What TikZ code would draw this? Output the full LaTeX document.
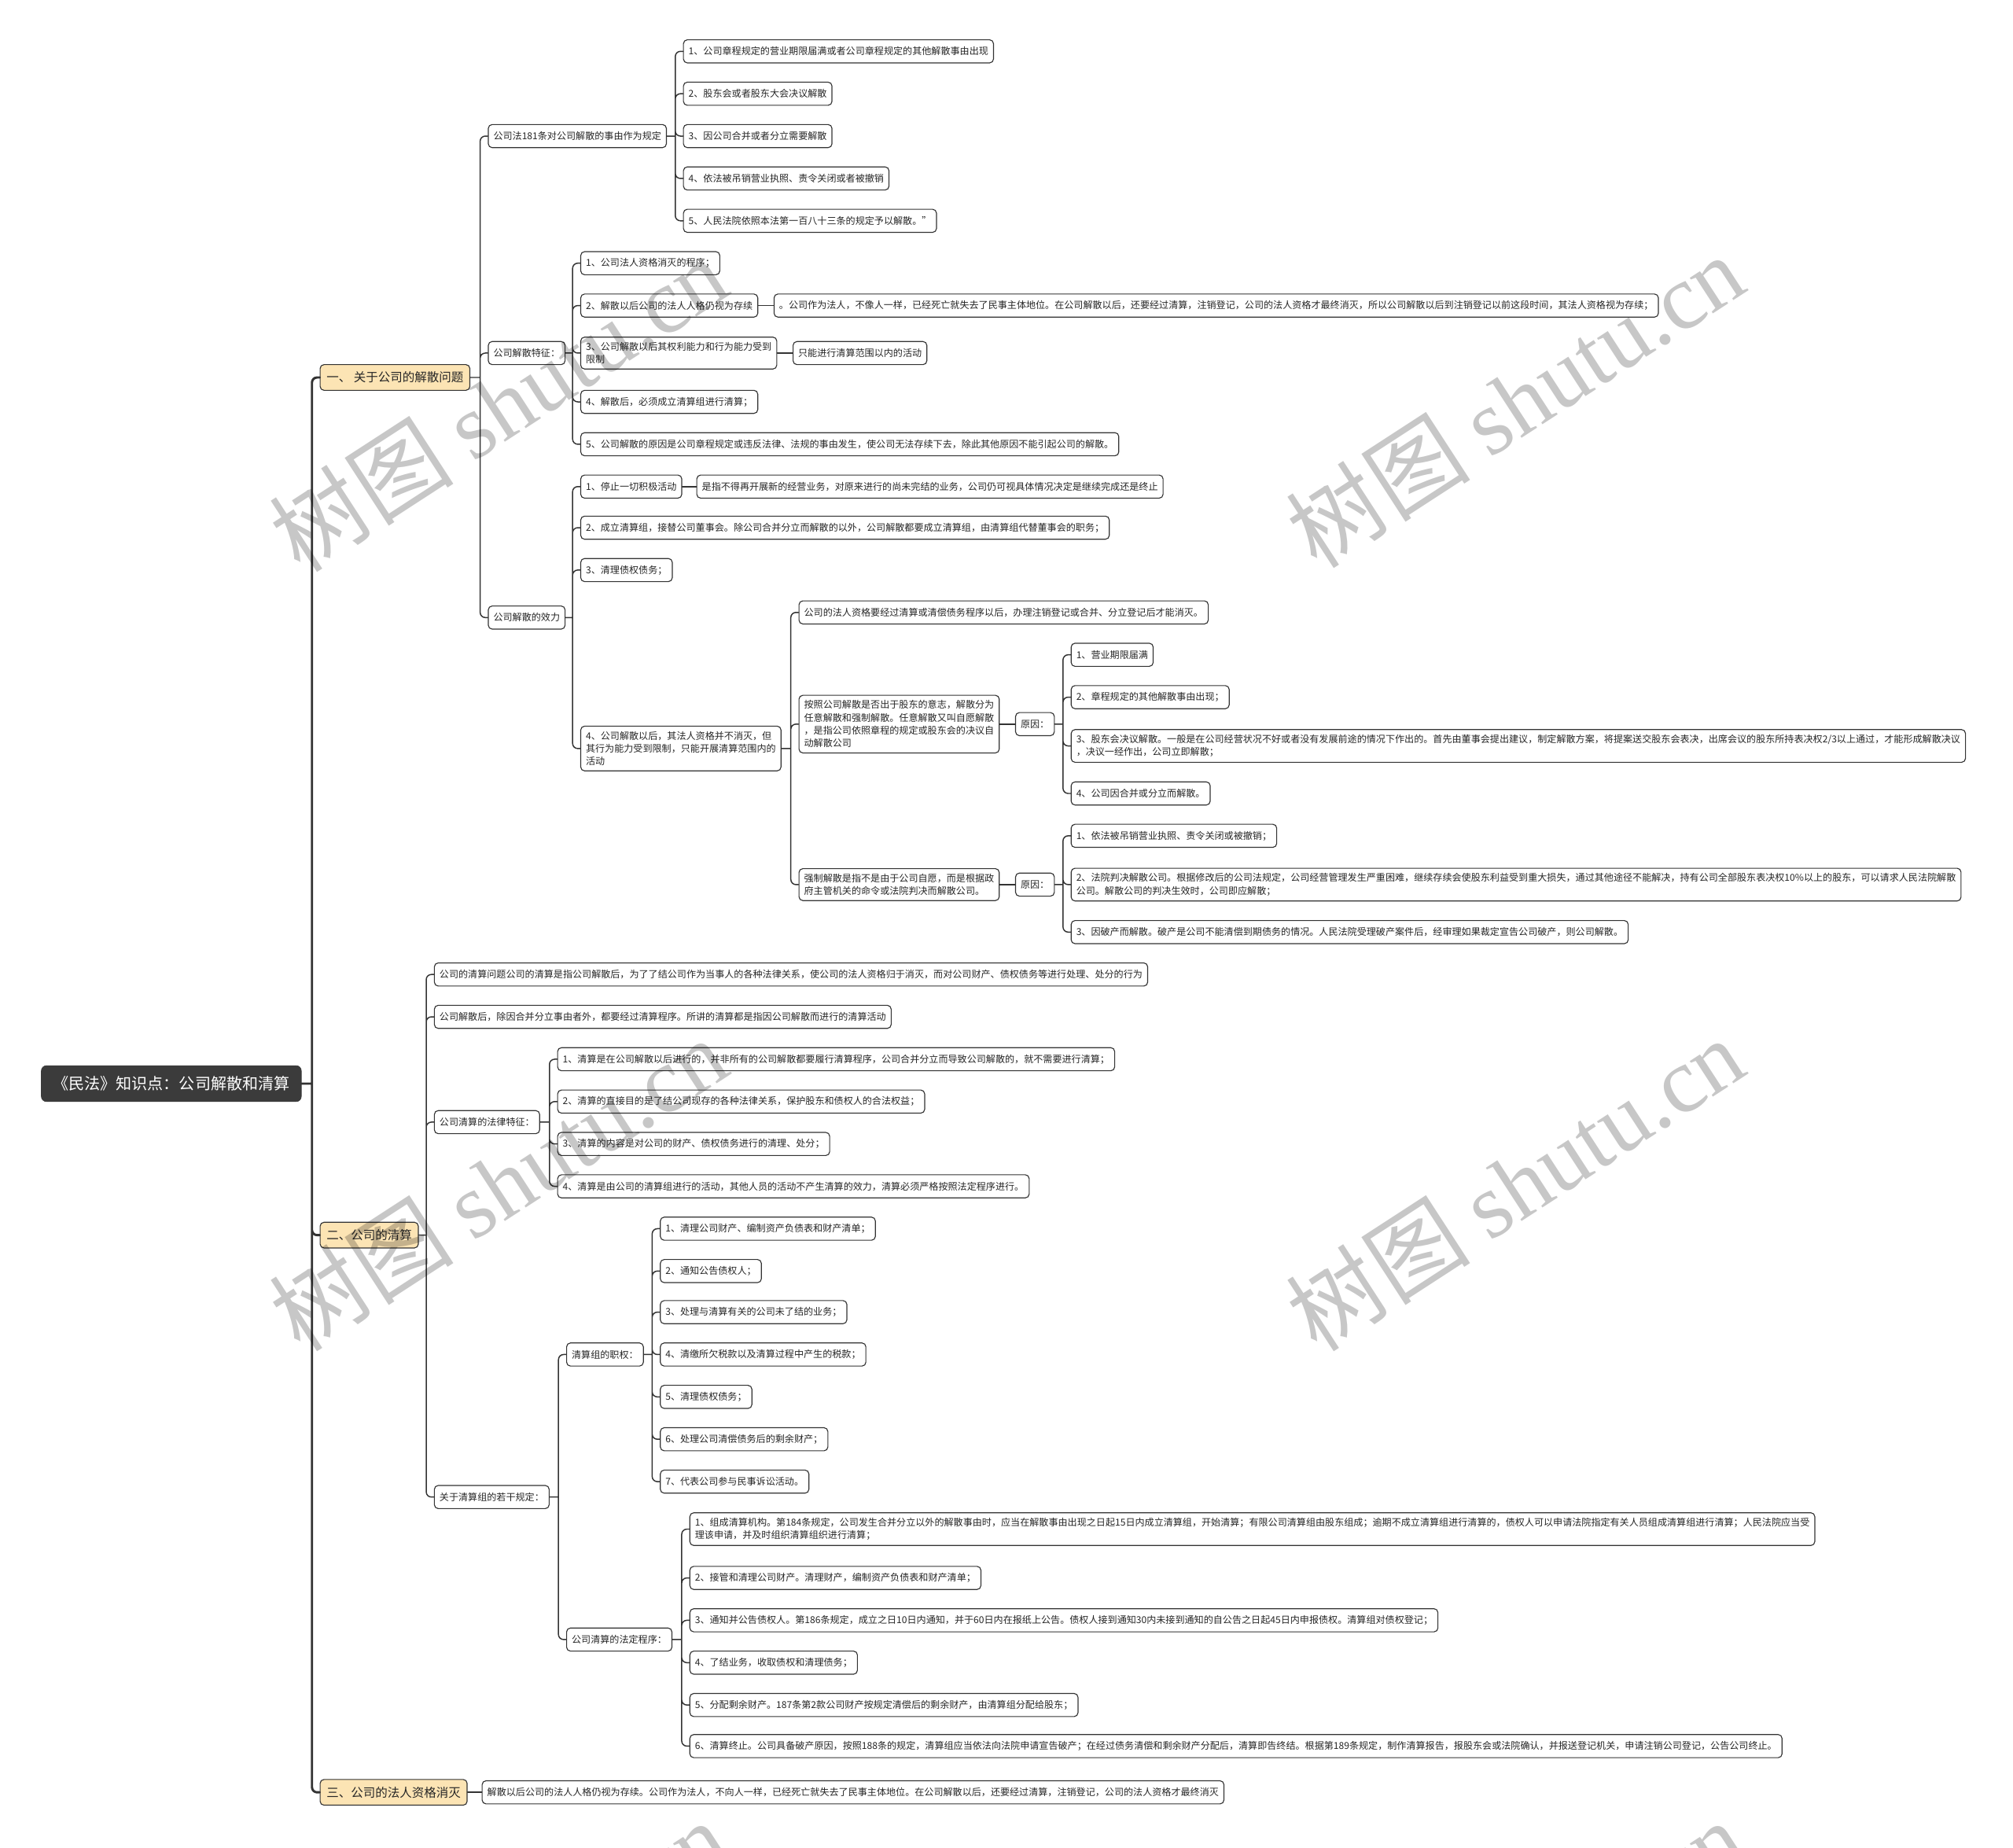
\documentclass[tikz,border=0pt]{standalone}
\usepackage{fontspec}
\setmainfont{Noto Sans CJK SC}
\newfontfamily\wmfont{Liberation Serif}
\usetikzlibrary{positioning, calc}

\definecolor{linegray}{HTML}{333333}
\definecolor{topicfill}{HTML}{FCE4B4}
\definecolor{rootfill}{HTML}{3B3B3B}

\begin{document}
\begin{tikzpicture}[
    x=1pt, y=-1pt,
    % Styles
    leaf/.style={draw=linegray, fill=white, rounded corners=3pt, line width=0.7pt, anchor=west, align=left, inner xsep=4pt, inner ysep=4pt, minimum height=18pt, font=\fontsize{7.4}{10}\selectfont, text=black!85},
    topic/.style={leaf, fill=topicfill, font=\fontsize{9.5}{11}\selectfont, minimum height=20pt, inner xsep=5pt},
    rootbox/.style={draw=rootfill, fill=rootfill, rounded corners=4pt, anchor=west, inner xsep=9pt, minimum height=28pt, font=\fontsize{12.3}{14}\selectfont, text=white},
    conn/.style={draw=linegray, line width=0.9pt, line cap=round, rounded corners=4pt,
        to path={-- ([xshift=-6pt]\tikztotarget.west |- \tikztostart) ([xshift=-6pt]\tikztotarget.west |- \tikztostart) |- (\tikztotarget.west)}},
    wmark/.style={rotate=33, text=black, opacity=0.22, font=\fontsize{72}{72}\selectfont}
    ]
    \useasboundingbox (0,0) rectangle (1568,1439);

    % Root and main topics
    \node (root) [rootbox] at (32,844) {《民法》知识点：公司解散和清算};
    \node (dis) [topic] at (249,294) {一、 关于公司的解散问题};
    \node (liq) [topic] at (249,962) {二、公司的清算};
    \node (ext) [topic] at (249,1396) {三、公司的法人资格消灭};

    % 1. Dissolution
    \node (cause) [leaf] at (380,106) {公司法181条对公司解散的事由作为规定};
    \node (feat) [leaf] at (380,275) {公司解散特征：};
    \node (eff) [leaf] at (380,481) {公司解散的效力};

    \node (cause1) [leaf] at (532,40) {1、公司章程规定的营业期限届满或者公司章程规定的其他解散事由出现};
    \node (cause2) [leaf] at (532,73) {2、股东会或者股东大会决议解散};
    \node (cause3) [leaf] at (532,106) {3、因公司合并或者分立需要解散};
    \node (cause4) [leaf] at (532,139) {4、依法被吊销营业执照、责令关闭或者被撤销};
    \node (cause5) [leaf] at (532,172) {5、人民法院依照本法第一百八十三条的规定予以解散。”};

    \node (feat1) [leaf] at (452,205) {1、公司法人资格消灭的程序；};
    \node (feat2) [leaf] at (452,238) {2、解散以后公司的法人人格仍视为存续};
    \node (feat2n) [leaf, right=12pt of feat2] {。公司作为法人，不像人一样，已经死亡就失去了民事主体地位。在公司解散以后，还要经过清算，注销登记，公司的法人资格才最终消灭，所以公司解散以后到注销登记以前这段时间，其法人资格视为存续；};
    \node (feat3) [leaf] at (452,275) {3、公司解散以后其权利能力和行为能力受到\\限制};
    \node (feat3n) [leaf, right=12pt of feat3] {只能进行清算范围以内的活动};
    \node (feat4) [leaf] at (452,313) {4、解散后，必须成立清算组进行清算；};
    \node (feat5) [leaf] at (452,346) {5、公司解散的原因是公司章程规定或违反法律、法规的事由发生，使公司无法存续下去，除此其他原因不能引起公司的解散。};

    \node (eff1) [leaf] at (452,379) {1、停止一切积极活动};
    \node (eff1n) [leaf, right=11pt of eff1] {是指不得再开展新的经营业务，对原来进行的尚未完结的业务，公司仍可视具体情况决定是继续完成还是终止};
    \node (eff2) [leaf] at (452,411) {2、成立清算组，接替公司董事会。除公司合并分立而解散的以外，公司解散都要成立清算组，由清算组代替董事会的职务；};
    \node (eff3) [leaf] at (452,444) {3、清理债权债务；};
    \node (eff4) [leaf] at (452,583) {4、公司解散以后，其法人资格并不消灭，但\\其行为能力受到限制，只能开展清算范围内的\\活动};

    \node (eff4a) [leaf] at (622,477) {公司的法人资格要经过清算或清偿债务程序以后，办理注销登记或合并、分立登记后才能消灭。};
    \node (vol) [leaf] at (622,564) {按照公司解散是否出于股东的意志，解散分为\\任意解散和强制解散。任意解散又叫自愿解散\\，是指公司依照章程的规定或股东会的决议自\\动解散公司};
    \node (volr) [leaf, right=12pt of vol] {原因：};
    \node (vol1) [leaf] at (834,510) {1、营业期限届满};
    \node (vol2) [leaf] at (834,543) {2、章程规定的其他解散事由出现；};
    \node (vol3) [leaf] at (834,581) {3、股东会决议解散。一般是在公司经营状况不好或者没有发展前途的情况下作出的。首先由董事会提出建议，制定解散方案，将提案送交股东会表决，出席会议的股东所持表决权2/3以上通过，才能形成解散决议\\，决议一经作出，公司立即解散；};
    \node (vol4) [leaf] at (834,618) {4、公司因合并或分立而解散。};

    \node (inv) [leaf] at (622,689) {强制解散是指不是由于公司自愿，而是根据政\\府主管机关的命令或法院判决而解散公司。};
    \node (invr) [leaf, right=12pt of inv] {原因：};
    \node (inv1) [leaf] at (834,651) {1、依法被吊销营业执照、责令关闭或被撤销；};
    \node (inv2) [leaf] at (834,689) {2、法院判决解散公司。根据修改后的公司法规定，公司经营管理发生严重困难，继续存续会使股东利益受到重大损失，通过其他途径不能解决，持有公司全部股东表决权10\%以上的股东，可以请求人民法院解散\\公司。解散公司的判决生效时，公司即应解散；};
    \node (inv3) [leaf] at (834,726) {3、因破产而解散。破产是公司不能清偿到期债务的情况。人民法院受理破产案件后，经审理如果裁定宣告公司破产，则公司解散。};

    % 2. Liquidation
    \node (liqdef) [leaf] at (338,759) {公司的清算问题公司的清算是指公司解散后，为了了结公司作为当事人的各种法律关系，使公司的法人资格归于消灭，而对公司财产、债权债务等进行处理、处分的行为};
    \node (liqall) [leaf] at (338,792) {公司解散后，除因合并分立事由者外，都要经过清算程序。所讲的清算都是指因公司解散而进行的清算活动};
    \node (liqfeat) [leaf] at (338,874) {公司清算的法律特征：};
    \node (grp) [leaf] at (338,1166) {关于清算组的若干规定：};

    \node (liqfeat1) [leaf] at (434,825) {1、清算是在公司解散以后进行的，并非所有的公司解散都要履行清算程序，公司合并分立而导致公司解散的，就不需要进行清算；};
    \node (liqfeat2) [leaf] at (434,858) {2、清算的直接目的是了结公司现存的各种法律关系，保护股东和债权人的合法权益；};
    \node (liqfeat3) [leaf] at (434,891) {3、清算的内容是对公司的财产、债权债务进行的清理、处分；};
    \node (liqfeat4) [leaf] at (434,924) {4、清算是由公司的清算组进行的活动，其他人员的活动不产生清算的效力，清算必须严格按照法定程序进行。};

    \node (power) [leaf] at (441,1055) {清算组的职权：};
    \node (proc) [leaf] at (441,1277) {公司清算的法定程序：};

    \node (power1) [leaf] at (514,957) {1、清理公司财产、编制资产负债表和财产清单；};
    \node (power2) [leaf] at (514,990) {2、通知公告债权人；};
    \node (power3) [leaf] at (514,1022) {3、处理与清算有关的公司未了结的业务；};
    \node (power4) [leaf] at (514,1055) {4、清缴所欠税款以及清算过程中产生的税款；};
    \node (power5) [leaf] at (514,1088) {5、清理债权债务；};
    \node (power6) [leaf] at (514,1121) {6、处理公司清偿债务后的剩余财产；};
    \node (power7) [leaf] at (514,1154) {7、代表公司参与民事诉讼活动。};

    \node (proc1) [leaf] at (537,1191) {1、组成清算机构。第184条规定，公司发生合并分立以外的解散事由时，应当在解散事由出现之日起15日内成立清算组，开始清算；有限公司清算组由股东组成；逾期不成立清算组进行清算的，债权人可以申请法院指定有关人员组成清算组进行清算；人民法院应当受\\理该申请，并及时组织清算组织进行清算；};
    \node (proc2) [leaf] at (537,1229) {2、接管和清理公司财产。清理财产，编制资产负债表和财产清单；};
    \node (proc3) [leaf] at (537,1262) {3、通知并公告债权人。第186条规定，成立之日10日内通知，并于60日内在报纸上公告。债权人接到通知30内未接到通知的自公告之日起45日内申报债权。清算组对债权登记；};
    \node (proc4) [leaf] at (537,1295) {4、了结业务，收取债权和清理债务；};
    \node (proc5) [leaf] at (537,1328) {5、分配剩余财产。187条第2款公司财产按规定清偿后的剩余财产，由清算组分配给股东；};
    \node (proc6) [leaf] at (537,1360) {6、清算终止。公司具备破产原因，按照188条的规定，清算组应当依法向法院申请宣告破产；在经过债务清偿和剩余财产分配后，清算即告终结。根据第189条规定，制作清算报告，报股东会或法院确认，并报送登记机关，申请注销公司登记，公告公司终止。};

    % 3. Extinction
    \node (extn) [leaf, right=11pt of ext] {解散以后公司的法人人格仍视为存续。公司作为法人，不向人一样，已经死亡就失去了民事主体地位。在公司解散以后，还要经过清算，注销登记，公司的法人资格才最终消灭};

    % Connections
    \draw[conn, line width=1.8pt] (root.east) to (dis) (root.east) to (liq) (root.east) to (ext);
    \draw[conn] (dis.east) to (cause) (dis.east) to (feat) (dis.east) to (eff);
    \draw[conn] (cause.east) to (cause1) (cause.east) to (cause2) (cause.east) to (cause3) (cause.east) to (cause4) (cause.east) to (cause5);
    \draw[conn] (feat.east) to (feat1) (feat.east) to (feat2) (feat.east) to (feat3) (feat.east) to (feat4) (feat.east) to (feat5);
    \draw[conn] (feat2.east) -- (feat2n.west);
    \draw[conn] (feat3.east) -- (feat3n.west);
    \draw[conn] (eff.east) to (eff1) (eff.east) to (eff2) (eff.east) to (eff3) (eff.east) to (eff4);
    \draw[conn] (eff1.east) -- (eff1n.west);
    \draw[conn] (eff4.east) to (eff4a) (eff4.east) to (vol) (eff4.east) to (inv);
    \draw[conn] (vol.east) -- (volr.west);
    \draw[conn] (volr.east) to (vol1) (volr.east) to (vol2) (volr.east) to (vol3) (volr.east) to (vol4);
    \draw[conn] (inv.east) -- (invr.west);
    \draw[conn] (invr.east) to (inv1) (invr.east) to (inv2) (invr.east) to (inv3);
    \draw[conn] (liq.east) to (liqdef) (liq.east) to (liqall) (liq.east) to (liqfeat) (liq.east) to (grp);
    \draw[conn] (liqfeat.east) to (liqfeat1) (liqfeat.east) to (liqfeat2) (liqfeat.east) to (liqfeat3) (liqfeat.east) to (liqfeat4);
    \draw[conn] (grp.east) to (power) (grp.east) to (proc);
    \draw[conn] (power.east) to (power1) (power.east) to (power2) (power.east) to (power3) (power.east) to (power4) (power.east) to (power5) (power.east) to (power6) (power.east) to (power7);
    \draw[conn] (proc.east) to (proc1) (proc.east) to (proc2) (proc.east) to (proc3) (proc.east) to (proc4) (proc.east) to (proc5) (proc.east) to (proc6);
    \draw[conn] (ext.east) -- (extn.west);

    % Watermarks
    \begin{scope}
        \clip (0,0) rectangle (1568,1439);
        \node (wm1) [wmark] at (388,315) {树图 {\wmfont shutu.cn}};
        \node (wm2) [wmark] at (1180,312) {树图 {\wmfont shutu.cn}};
        \node (wm3) [wmark] at (388,922) {树图 {\wmfont shutu.cn}};
        \node (wm4) [wmark] at (1180,922) {树图 {\wmfont shutu.cn}};
        \node (wm5) [wmark] at (388,1532) {树图 {\wmfont shutu.cn}};
        \node (wm6) [wmark] at (1180,1532) {树图 {\wmfont shutu.cn}};
    \end{scope}
\end{tikzpicture}
\end{document}
